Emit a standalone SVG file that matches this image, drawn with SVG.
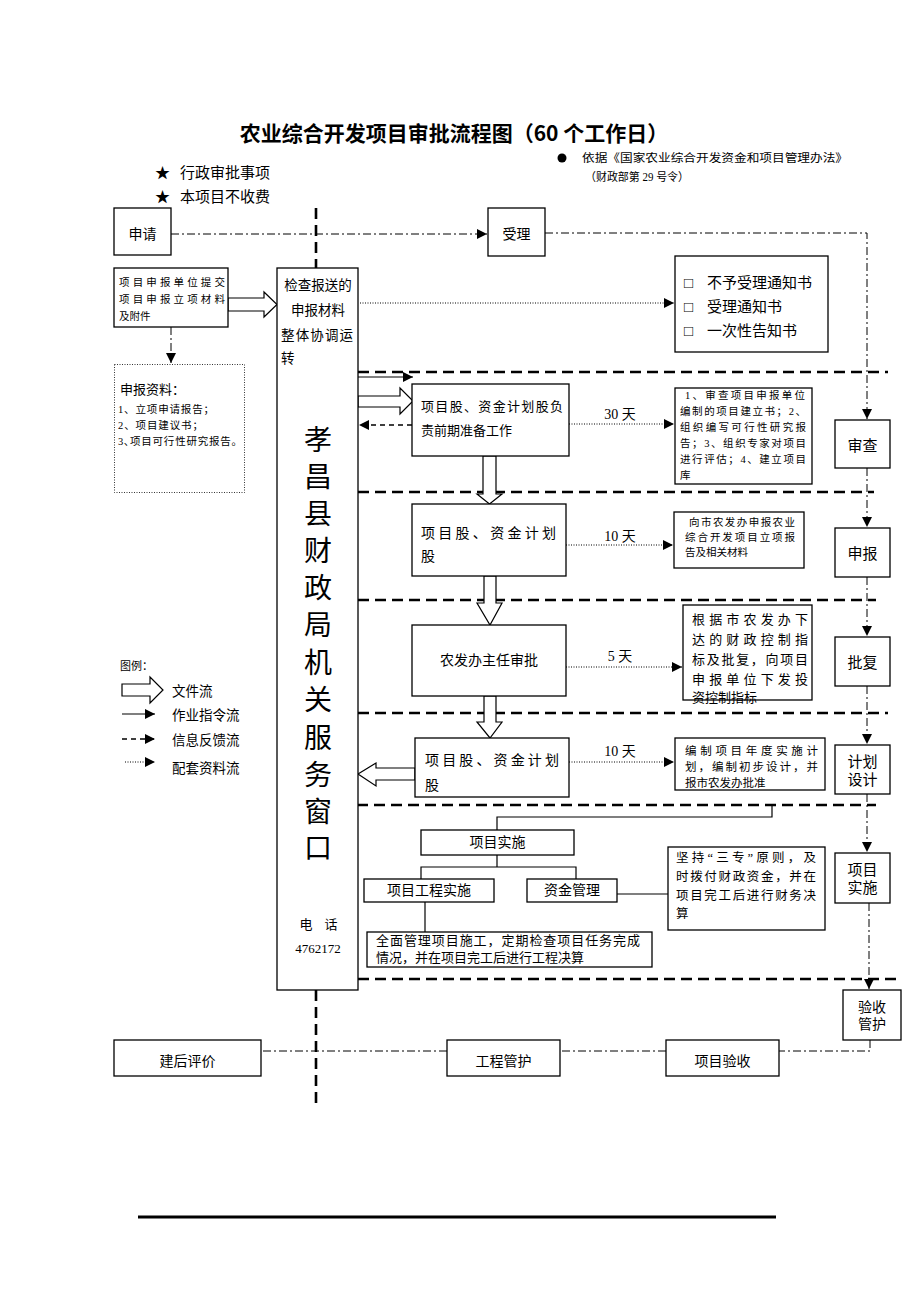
<svg xmlns="http://www.w3.org/2000/svg" width="920" height="1302" viewBox="0 0 920 1302">
<style>
text{font-family:"Liberation Serif","Noto Sans CJK SC",serif;fill:#000}
.b{fill:#fff;stroke:#000;stroke-width:1.3}
.ha{fill:#fff;stroke:#000;stroke-width:1.2}
.dd{fill:none;stroke:#000;stroke-width:1;stroke-dasharray:8 3 2 3}
.td{fill:none;stroke:#000;stroke-width:2.6;stroke-dasharray:11 6}
.dot{fill:none;stroke:#000;stroke-width:1;stroke-dasharray:1 1.5}
.sl{fill:none;stroke:#000;stroke-width:1.2}
.dsh{fill:none;stroke:#000;stroke-width:1.3;stroke-dasharray:5 4}
.c{text-anchor:middle}
</style>
<defs>
<marker id="ah" markerUnits="userSpaceOnUse" markerWidth="11" markerHeight="10" refX="10" refY="5" orient="auto">
<path d="M0,0 L10,5 L0,10 Z" fill="#000"/>
</marker>
</defs>

<g id="title">
<text x="454" y="141" class="c" font-size="21" font-weight="bold" style="font-family:'Noto Sans CJK SC','Liberation Sans',sans-serif">农业综合开发项目审批流程图（60 个工作日）</text>
<circle cx="562" cy="158" r="4.5" fill="#000"/>
<text x="582" y="162" font-size="11.5" textLength="266" lengthAdjust="spacingAndGlyphs">依据《国家农业综合开发资金和项目管理办法》</text>
<text x="585" y="181" font-size="11.5" textLength="104" lengthAdjust="spacingAndGlyphs">（财政部第 29 号令）</text>
<text x="155" y="178" font-size="15">★</text>
<text x="180" y="178" font-size="15">行政审批事项</text>
<text x="155" y="202" font-size="15">★</text>
<text x="180" y="202" font-size="15">本项目不收费</text>
</g>

<g id="connectors">
<line x1="316" y1="208" x2="316" y2="268" class="td" stroke-dasharray="14 8"/>
<line x1="316" y1="990" x2="316" y2="1108" class="td" stroke-dasharray="14 8"/>
<line x1="358" y1="372" x2="888" y2="372" class="td"/>
<line x1="358" y1="492" x2="874" y2="492" class="td"/>
<line x1="358" y1="600" x2="876" y2="600" class="td"/>
<line x1="358" y1="713" x2="888" y2="713" class="td"/>
<line x1="340" y1="805" x2="876" y2="805" class="td"/>
<line x1="358" y1="979" x2="896" y2="979" class="td"/>
<line x1="171" y1="234" x2="487" y2="234" class="dd" marker-end="url(#ah)"/>
<path d="M545,233 H867 V419" class="dd" marker-end="url(#ah)"/>
<line x1="867" y1="468" x2="867" y2="527" class="dd" marker-end="url(#ah)"/>
<line x1="867" y1="577" x2="867" y2="636" class="dd" marker-end="url(#ah)"/>
<line x1="867" y1="686" x2="867" y2="744" class="dd" marker-end="url(#ah)"/>
<line x1="867" y1="794" x2="867" y2="852" class="dd" marker-end="url(#ah)"/>
<line x1="869" y1="903" x2="869" y2="989" class="dd" marker-end="url(#ah)"/>
<path d="M870,1040 V1051 H779" class="dd"/>
<line x1="666" y1="1051" x2="560" y2="1051" class="dd"/>
<line x1="447" y1="1051" x2="261" y2="1051" class="dd"/>
<line x1="171" y1="327" x2="171" y2="363" class="dd" marker-end="url(#ah)"/>
<polygon points="228,298 264,298 264,292 277,304.5 264,317 264,311 228,311" class="ha"/>
<line x1="360" y1="303" x2="674" y2="303" class="dot" marker-end="url(#ah)"/>
<line x1="569" y1="424" x2="674" y2="424" class="dot" marker-end="url(#ah)"/>
<line x1="566" y1="545" x2="673" y2="545" class="dot" marker-end="url(#ah)"/>
<line x1="566" y1="667" x2="682" y2="667" class="dot" marker-end="url(#ah)"/>
<line x1="569" y1="762" x2="674" y2="762" class="dot" marker-end="url(#ah)"/>
<line x1="358" y1="377" x2="413" y2="377" class="sl" marker-end="url(#ah)"/>
<polygon points="358,396 400,396 400,388 413,401 400,414 400,407 358,407" class="ha"/>
<line x1="412" y1="425" x2="359" y2="425" class="dsh" marker-end="url(#ah)"/>
<polygon points="483,456 496,456 496,494 502,494 489.5,504 477,494 483,494" class="ha"/>
<polygon points="484,576 496,576 496,603 502,603 490,625 477,603 484,603" class="ha"/>
<polygon points="484,696 496,696 496,722 502,722 490,738 477,722 484,722" class="ha"/>
<polygon points="415,768 376,768 376,763 358,774 376,786 376,780 415,780" class="ha"/>
<path d="M772,806 V817 H497 V830" class="sl"/>
<path d="M497,855 V867 M421,879 V867 H576 V879" class="sl"/>
<line x1="617" y1="894" x2="668" y2="894" class="sl"/>
<line x1="425" y1="902" x2="425" y2="932" class="sl"/>
</g>

<g id="n-apply"><rect x="114" y="208" width="57" height="47" class="b"/><text x="142.5" y="239" class="c" font-size="14">申请</text></g>
<g id="n-accept"><rect x="488" y="208" width="57" height="48" class="b"/><text x="516.5" y="239" class="c" font-size="14">受理</text></g>

<g id="n-submit"><rect x="114" y="268" width="114" height="59" class="b"/>
<text x="119" y="286" font-size="10.5" textLength="106" lengthAdjust="spacing">项目申报单位提交</text>
<text x="119" y="303" font-size="10.5" textLength="106" lengthAdjust="spacing">项目申报立项材料</text>
<text x="119" y="320" font-size="10.5">及附件</text></g>

<g id="n-materials"><rect x="114.5" y="364.5" width="130" height="128" fill="#fff" stroke="#000" stroke-width="0.8" stroke-dasharray="1 1.5"/>
<text x="120" y="394" font-size="13">申报资料：</text>
<text x="118" y="413" font-size="10.5" textLength="96" lengthAdjust="spacing">1、立项申请报告；</text>
<text x="118" y="429" font-size="10.5" textLength="85" lengthAdjust="spacing">2、项目建议书；</text>
<text x="118" y="445" font-size="10.5" textLength="124" lengthAdjust="spacing">3､项目可行性研究报告。</text></g>

<g id="n-window"><rect x="277" y="268" width="81" height="722" class="b"/>
<text x="318" y="290" class="c" font-size="13.5">检查报送的</text>
<text x="318" y="315" class="c" font-size="13.5">申报材料</text>
<text x="281" y="340" font-size="13.5" textLength="72" lengthAdjust="spacing">整体协调运</text>
<text x="281" y="363" font-size="13.5">转</text>
<g class="c" font-size="28">
<text x="318" y="450">孝</text><text x="318" y="487">昌</text><text x="318" y="524">县</text><text x="318" y="561">财</text><text x="318" y="598">政</text><text x="318" y="635">局</text><text x="318" y="673">机</text><text x="318" y="710">关</text><text x="318" y="748">服</text><text x="318" y="785">务</text><text x="318" y="822">窗</text><text x="318" y="858">口</text>
</g>
<text x="306" y="929" class="c" font-size="13">电</text>
<text x="331" y="929" class="c" font-size="13">话</text>
<text x="318" y="953" class="c" font-size="13">4762172</text></g>

<g id="n-notice"><rect x="675" y="256" width="153" height="96" class="b"/>
<g font-size="15">
<text x="684" y="288">□</text><text x="707" y="288">不予受理通知书</text>
<text x="684" y="312">□</text><text x="707" y="312">受理通知书</text>
<text x="684" y="336">□</text><text x="707" y="336">一次性告知书</text></g></g>

<g id="n-prep"><rect x="412" y="384" width="157" height="72" class="b"/>
<text x="421" y="411" font-size="13" textLength="142" lengthAdjust="spacing">项目股、资金计划股负</text>
<text x="421" y="435" font-size="13">责前期准备工作</text>
<text x="620" y="419" class="c" font-size="14">30 天</text></g>

<g id="n-prep-note"><rect x="675" y="388" width="137" height="96" class="b"/>
<g font-size="10.5">
<text x="685" y="399" textLength="120" lengthAdjust="spacing">1、审查项目申报单位</text>
<text x="680" y="415" textLength="126" lengthAdjust="spacing">编制的项目建立书；2、</text>
<text x="680" y="431" textLength="126" lengthAdjust="spacing">组织编写可行性研究报</text>
<text x="680" y="447" textLength="126" lengthAdjust="spacing">告；3、组织专家对项目</text>
<text x="680" y="463" textLength="126" lengthAdjust="spacing">进行评估；4、建立项目</text>
<text x="680" y="479">库</text></g></g>

<g id="n-shenqing"><rect x="412" y="504" width="154" height="72" class="b"/>
<text x="421" y="538" font-size="14" textLength="135" lengthAdjust="spacing">项目股、资金计划</text>
<text x="421" y="561" font-size="14">股</text>
<text x="620" y="541" class="c" font-size="14">10 天</text></g>

<g id="n-shenqing-note"><rect x="674" y="512" width="130" height="56" class="b"/>
<g font-size="10.5">
<text x="689" y="526" textLength="106" lengthAdjust="spacing">向市农发办申报农业</text>
<text x="685" y="541" textLength="110" lengthAdjust="spacing">综合开发项目立项报</text>
<text x="685" y="556">告及相关材料</text></g></g>

<g id="n-director"><rect x="412" y="625" width="154" height="71" class="b"/>
<text x="489" y="665" class="c" font-size="14">农发办主任审批</text>
<text x="620" y="661" class="c" font-size="14">5 天</text></g>

<g id="n-director-note"><rect x="683" y="605" width="129" height="95" class="b"/>
<g font-size="13">
<text x="692" y="624" textLength="116" lengthAdjust="spacing">根据市农发办下</text>
<text x="692" y="644" textLength="116" lengthAdjust="spacing">达的财政控制指</text>
<text x="692" y="664" textLength="116" lengthAdjust="spacing">标及批复，向项目</text>
<text x="692" y="684" textLength="116" lengthAdjust="spacing">申报单位下发投</text>
<text x="692" y="702">资控制指标</text></g></g>

<g id="n-plan"><rect x="415" y="738" width="154" height="59" class="b"/>
<text x="425" y="765" font-size="14" textLength="134" lengthAdjust="spacing">项目股、资金计划</text>
<text x="425" y="790" font-size="14">股</text>
<text x="620" y="756" class="c" font-size="14">10 天</text></g>

<g id="n-plan-note"><rect x="675" y="738" width="150" height="52" class="b"/>
<g font-size="11.5">
<text x="685" y="755" textLength="133" lengthAdjust="spacing">编制项目年度实施计</text>
<text x="685" y="771" textLength="133" lengthAdjust="spacing">划，编制初步设计，并</text>
<text x="685" y="787">报市农发办批准</text></g></g>

<g id="n-impl"><rect x="421" y="830" width="153" height="25" class="b"/><text x="497.5" y="847" class="c" font-size="14">项目实施</text></g>
<g id="n-eng"><rect x="364" y="879" width="130" height="23" class="b"/><text x="429" y="895" class="c" font-size="14">项目工程实施</text></g>
<g id="n-fund"><rect x="527" y="879" width="90" height="23" class="b"/><text x="572" y="895" class="c" font-size="14">资金管理</text></g>

<g id="n-fund-note"><rect x="668" y="847" width="157" height="83" class="b"/>
<g font-size="12.5">
<text x="676" y="862" textLength="140" lengthAdjust="spacing">坚持“三专”原则，及</text>
<text x="676" y="881" textLength="140" lengthAdjust="spacing">时拨付财政资金，并在</text>
<text x="676" y="900" textLength="140" lengthAdjust="spacing">项目完工后进行财务决</text>
<text x="676" y="918">算</text></g></g>

<g id="n-eng-note"><rect x="367" y="932" width="285" height="35" class="b"/>
<g font-size="13">
<text x="376" y="945" textLength="264" lengthAdjust="spacing">全面管理项目施工，定期检查项目任务完成</text>
<text x="376" y="962">情况，并在项目完工后进行工程决算</text></g></g>

<g id="n-review"><rect x="835" y="420" width="55" height="48" class="b"/><text x="862.5" y="451" class="c" font-size="15">审查</text></g>
<g id="n-report"><rect x="835" y="528" width="55" height="49" class="b"/><text x="862.5" y="559" class="c" font-size="15">申报</text></g>
<g id="n-approve"><rect x="835" y="637" width="55" height="49" class="b"/><text x="862.5" y="668" class="c" font-size="15">批复</text></g>
<g id="n-design"><rect x="835" y="745" width="55" height="49" class="b"/><text x="862.5" y="767" class="c" font-size="15">计划</text><text x="862.5" y="785" class="c" font-size="15">设计</text></g>
<g id="n-implement"><rect x="835" y="853" width="55" height="50" class="b"/><text x="862.5" y="875" class="c" font-size="15">项目</text><text x="862.5" y="893" class="c" font-size="15">实施</text></g>
<g id="n-acceptance"><rect x="843" y="990" width="58" height="50" class="b"/><text x="872" y="1012" class="c" font-size="14">验收</text><text x="872" y="1029" class="c" font-size="14">管护</text></g>

<g id="n-eval"><rect x="114" y="1040" width="147" height="36" class="b"/><text x="187.5" y="1066" class="c" font-size="14">建后评价</text></g>
<g id="n-maint"><rect x="447" y="1040" width="113" height="36" class="b"/><text x="503.5" y="1066" class="c" font-size="14">工程管护</text></g>
<g id="n-check"><rect x="666" y="1040" width="113" height="36" class="b"/><text x="722.5" y="1066" class="c" font-size="14">项目验收</text></g>

<g id="legend">
<text x="120" y="670" font-size="11">图例：</text>
<polygon points="122,684 150,684 150,677 163,690 150,703 150,696 122,696" class="ha"/>
<text x="172" y="696" font-size="13.5">文件流</text>
<line x1="122" y1="714" x2="155" y2="714" class="sl" marker-end="url(#ah)"/>
<text x="172" y="720" font-size="13.5">作业指令流</text>
<line x1="122" y1="739" x2="155" y2="739" class="dsh" marker-end="url(#ah)"/>
<text x="172" y="745" font-size="13.5">信息反馈流</text>
<line x1="125" y1="762" x2="155" y2="762" class="dot" marker-end="url(#ah)"/>
<text x="172" y="773" font-size="13.5">配套资料流</text>
</g>

<line x1="138" y1="1217" x2="776" y2="1217" stroke="#000" stroke-width="3"/>
</svg>
